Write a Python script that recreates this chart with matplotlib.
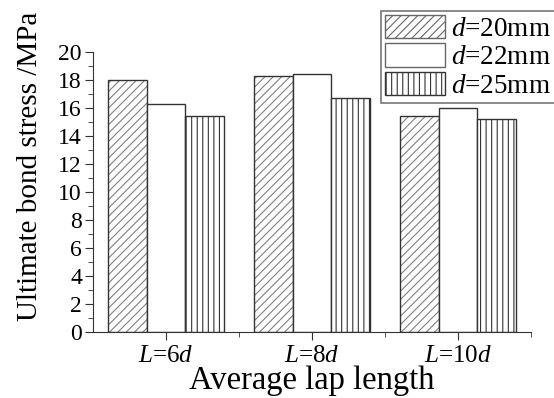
import numpy as np
import matplotlib
matplotlib.use("Agg")
from matplotlib import pyplot as plt
from matplotlib.ticker import MultipleLocator, FixedLocator
from matplotlib.patches import Patch

plt.rcParams['font.family'] = 'Liberation Serif'
plt.rcParams['mathtext.fontset'] = 'custom'
plt.rcParams['mathtext.rm'] = 'Liberation Serif'
plt.rcParams['mathtext.it'] = 'Liberation Serif:italic'
plt.rcParams['hatch.linewidth'] = 0.8

groups = ['$L$=6$d$', '$L$=8$d$', '$L$=10$d$']
series = ['$d$=20mm', '$d$=22mm', '$d$=25mm']
d20 = [18.0, 18.3, 15.4]
d22 = [16.3, 18.4, 16.0]
d25 = [15.4, 16.7, 15.2]

fig = plt.figure(figsize=(5.54, 3.98), dpi=100)
ax = fig.add_axes([93/554, 1-332/398, (531-93)/554, (332-52)/398])

x = np.arange(len(groups))
w = 0.267
# diagonal hatch in grey, outline drawn over in black
ax.bar(x - w, d20, w, color='white', edgecolor='#808080', hatch='////', linewidth=0)
ax.bar(x - w, d20, w, color='none', edgecolor='#333333', linewidth=1)
ax.bar(x, d22, w, color='white', edgecolor='#333333', linewidth=1)
ax.bar(x + w, d25, w, color='white', edgecolor='#333333', hatch='|||', linewidth=1)

ax.set_xlim(-0.5, 2.5)
ax.set_ylim(0, 20)
ax.yaxis.set_major_locator(MultipleLocator(2))
ax.yaxis.set_minor_locator(MultipleLocator(1))
ax.set_xticks(x)
ax.set_xticklabels(groups, fontsize=18)
ax.xaxis.set_minor_locator(FixedLocator([0.5, 1.5, 2.5]))
ax.tick_params(axis='y', labelsize=17, pad=2)
ax.tick_params(axis='x', pad=3)
ax.tick_params(which='both', direction='out', color='#333333')
ax.tick_params(which='major', length=6)
ax.tick_params(which='minor', length=3.5)
for s in ['top', 'right']:
    ax.spines[s].set_visible(False)
for s in ['left', 'bottom']:
    ax.spines[s].set_color('#333333')

ax.set_ylabel('Ultimate bond stress /MPa', fontsize=21)
ax.yaxis.set_label_coords(-0.115, 0.593)
ax.set_xlabel('Average lap length', fontsize=23.5)
ax.xaxis.set_label_coords(0.5, -0.118)

handles = [Patch(facecolor='white', edgecolor='#666666', hatch='////'),
           Patch(facecolor='white', edgecolor='#666666'),
           Patch(facecolor='white', edgecolor='#333333', hatch='|||')]
leg = fig.legend(handles, series, loc='upper left', bbox_to_anchor=(381/554, 1-11/398),
                 fontsize=19.5, frameon=True, fancybox=False, handlelength=2.2,
                 handleheight=0.95, handletextpad=0.25, labelspacing=0.05,
                 borderpad=0.15, borderaxespad=0)
leg.get_frame().set_edgecolor('#555555')
leg.get_frame().set_linewidth(1.2)

fig.savefig('out.png', dpi=100)
